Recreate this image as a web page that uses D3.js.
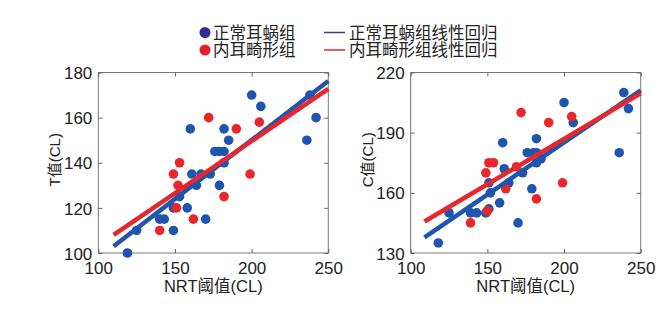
<!DOCTYPE html>
<html>
<head>
<meta charset="utf-8">
<script src="https://cdn.jsdelivr.net/npm/d3@7"></script>
<style>
body { margin: 0; background: #fff; }
text { font-family: "Liberation Sans", Arial, "Noto Sans CJK SC", sans-serif; fill: #222; }
</style>
</head>
<body>
<div id="chart"></div>
<script>
// NRT threshold (x) vs T value, normal cochlea group
const normalT_x = [119, 125, 140, 143, 149, 149, 153, 158, 160, 161, 164, 167, 170, 173, 176, 179, 179, 182, 182, 182, 185, 200, 206, 236, 238, 242];
const normalT_y = [100, 110, 115, 115, 110, 120, 125, 120, 155, 135, 130, 135, 115, 135, 145, 145, 130, 145, 140, 155, 150, 170, 165, 150, 170, 160];
// inner ear malformation group
const abnormT_x = [140, 149, 151, 152, 153, 162, 172, 182, 190, 199, 205];
const abnormT_y = [110, 135, 120, 130, 140, 115, 160, 125, 155, 135, 158];

// NRT threshold vs C value
const normalC_x = [118, 125, 139, 143, 149, 151, 152, 151, 158, 160, 161, 164, 170, 173, 176, 180, 182, 182, 179, 182, 185, 200, 206, 236, 239, 242];
const normalC_y = [135, 150, 150, 150, 150, 165, 160, 152, 155, 185, 172, 165, 145, 170, 180, 180, 180, 187, 162, 175, 177, 205, 195, 180, 210, 202];
const abnormC_x = [139, 149, 151, 154, 150, 162, 169, 172, 182, 190, 199, 205];
const abnormC_y = [145, 170, 175, 175, 151, 162, 173, 200, 157, 195, 165, 198];

// regression lines: [x0, y0, x1, y1]
const fitNormalT = [110, 103, 250, 176.2];
const fitAbnormT = [110, 108, 250, 172.7];
const fitNormalC = [109, 137.8, 250, 211.1];
const fitAbnormC = [109, 145.7, 250, 209.6];

const xTicks = [100, 150, 200, 250];
const tTicks = [100, 120, 140, 160, 180];
const cTicks = [130, 160, 190, 220];

const legendDots = ['正常耳蜗组', '内耳畸形组'];
const legendLines = ['正常耳蜗组线性回归', '内耳畸形组线性回归'];

const blue = '#1f56ad';
const red = '#e8262b';

const width = 658, height = 320;
const plotTop = 72.5, plotBottom = 253;

const svg = d3.select('#chart').append('svg')
    .attr('width', width)
    .attr('height', height);

function panel(left, right, yDomain, yTicks, yTitle, nx, ny, ax, ay, fitN, fitA) {
    const x = d3.scaleLinear().domain([100, 250]).range([left, right]);
    const y = d3.scaleLinear().domain(yDomain).range([plotBottom, plotTop]);
    const g = svg.append('g');

    // frame
    g.append('rect')
        .attr('x', left).attr('y', plotTop)
        .attr('width', right - left).attr('height', plotBottom - plotTop)
        .attr('fill', 'none').attr('stroke', '#777').attr('stroke-width', 1);

    const ax1 = g.append('g').attr('transform', `translate(0,${plotBottom})`)
        .call(d3.axisBottom(x).tickValues(xTicks).tickSizeInner(-4).tickSizeOuter(0).tickPadding(9));
    const ax2 = g.append('g').attr('transform', `translate(0,${plotTop})`)
        .call(d3.axisTop(x).tickValues(xTicks).tickSizeInner(-4).tickSizeOuter(0).tickFormat(''));
    const ay1 = g.append('g').attr('transform', `translate(${left},0)`)
        .call(d3.axisLeft(y).tickValues(yTicks).tickSizeInner(-4).tickSizeOuter(0).tickPadding(6));
    const ay2 = g.append('g').attr('transform', `translate(${right},0)`)
        .call(d3.axisRight(y).tickValues(yTicks).tickSizeInner(-4).tickSizeOuter(0).tickFormat(''));
    [ax1, ax2, ay1, ay2].forEach(a => {
        a.select('.domain').remove();
        a.selectAll('line').attr('stroke', '#666');
        a.selectAll('text').style('font-size', '17px').attr('fill', '#222');
    });
    ay1.selectAll('text').attr('dy', '0.36em');

    // points
    const nData = nx.map((v, i) => [v, ny[i]]);
    const aData = ax.map((v, i) => [v, ay[i]]);
    g.selectAll('circle.n').data(nData).enter().append('circle')
        .attr('cx', d => x(d[0])).attr('cy', d => y(d[1]))
        .attr('r', 4.8).attr('fill', blue);
    g.selectAll('circle.a').data(aData).enter().append('circle')
        .attr('cx', d => x(d[0])).attr('cy', d => y(d[1]))
        .attr('r', 4.8).attr('fill', red);

    // fits
    [[fitN, blue], [fitA, red]].forEach(([f, c]) => {
        g.append('line')
            .attr('x1', x(f[0])).attr('y1', y(f[1]))
            .attr('x2', x(f[2])).attr('y2', y(f[3]))
            .attr('stroke', c).attr('stroke-width', 4.5);
    });

    g.append('text')
        .attr('x', (left + right) / 2).attr('y', 292)
        .attr('text-anchor', 'middle')
        .style('font-size', '16.5px')
        .text('NRT阈值(CL)');
    g.append('text')
        .attr('transform', `translate(${left - 38},${(plotTop + plotBottom) / 2 - 3}) rotate(-90)`)
        .attr('text-anchor', 'middle')
        .style('font-size', '15px')
        .text(yTitle);
}

panel(98.3, 328.3, [100, 180], tTicks, 'T值(CL)', normalT_x, normalT_y, abnormT_x, abnormT_y, fitNormalT, fitAbnormT);
panel(410.7, 640.7, [130, 220], cTicks, 'C值(CL)', normalC_x, normalC_y, abnormC_x, abnormC_y, fitNormalC, fitAbnormC);

// legend
const lg = svg.append('g');
const dotColors = ['#2b2f8f', '#e41f26'];
const lineColors = ['#3b3ba0', '#e82020'];
legendDots.forEach((t, i) => {
    const yy = 32.5 + i * 17.5;
    lg.append('circle').attr('cx', 205).attr('cy', yy).attr('r', 5.5).attr('fill', dotColors[i]);
    lg.append('text').attr('x', 213).attr('y', yy + 6).style('font-size', '16.5px').text(t);
});
legendLines.forEach((t, i) => {
    const yy = 32.5 + i * 17.5;
    lg.append('line').attr('x1', 324).attr('x2', 345).attr('y1', yy).attr('y2', yy)
        .attr('stroke', lineColors[i]).attr('stroke-width', 1.5);
    lg.append('text').attr('x', 349).attr('y', yy + 6).style('font-size', '16.5px').text(t);
});
</script>
</body>
</html>
